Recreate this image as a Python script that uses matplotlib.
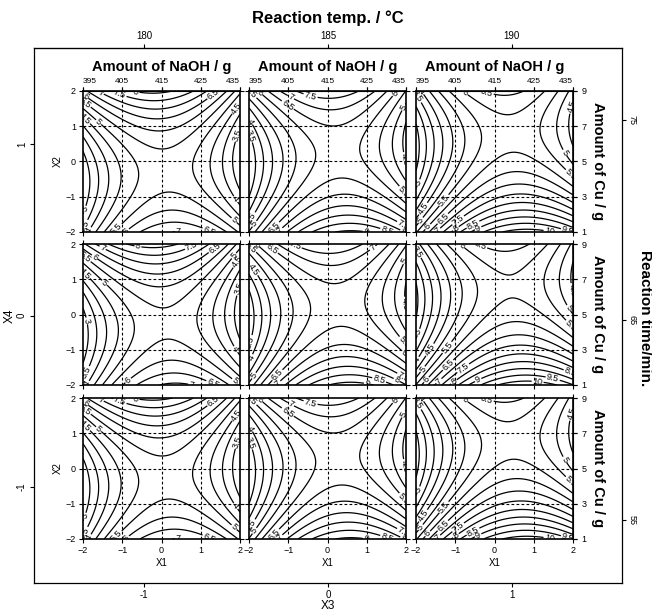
import numpy as np
import matplotlib
matplotlib.use('Agg')
import matplotlib.pyplot as plt

plt.rcParams['font.family'] = ['Liberation Sans', 'DejaVu Sans']

# ---- data: second-order response-surface model in coded factors X1..X4 ----
b0, b1, b2, b3 = 6.28, 0.36, -0.25, 0.351
b11, b22, b33, b44 = -0.60, 0.55, -0.505, -0.10
b12, b13, b23 = -0.18, 0.28, -0.55

x3_levels = [-1, 0, 1]          # columns (reaction temp.)
x4_levels = [1, 0, -1]          # rows (reaction time)
temp_labels = ['180', '185', '190']
time_values = [75, 65, 55]
x4_tick_labels = ['1', '0', '-1']
x3_tick_labels = ['-1', '0', '1']
x1_ticks = [-2, -1, 0, 1, 2]
naoh_labels = ['395', '405', '415', '425', '435']
x2_ticks = [-2, -1, 0, 1, 2]
cu_labels = ['1', '3', '5', '7', '9']
contour_levels = np.arange(1.0, 12.5, 0.5)
labelled_levels = np.arange(3.0, 10.5, 0.5)


def model(x1, x2, x3, x4):
    return (b0 + b1 * x1 + b2 * x2 + b3 * x3
            + b11 * x1 ** 2 + b22 * x2 ** 2 + b33 * x3 ** 2 + b44 * x4 ** 2
            + b12 * x1 * x2 + b13 * x1 * x3 + b23 * x2 * x3)


W, H = 652, 611
fig = plt.figure(figsize=(W / 100, H / 100), dpi=100)


def px(x0, y0, x1, y1):
    return [x0 / W, 1 - y1 / H, (x1 - x0) / W, (y1 - y0) / H]


# ---- outer frame axes ----
outer = fig.add_axes(px(34, 48, 622, 583))
outer.set_facecolor('none')
outer.set_xlim(-1.6, 1.6)
outer.set_ylim(-1.564, 1.564)
outer.set_xticks([-1, 0, 1])
outer.set_xticklabels(x3_tick_labels)
outer.set_yticks([1, 0, -1])
outer.set_yticklabels(x4_tick_labels, rotation=90, va='center')
outer.tick_params(direction='out', length=3, width=0.8, labelsize=7, pad=2)
outer.set_xlabel('X3', fontsize=8.5, labelpad=0)
outer.set_ylabel('X4', fontsize=8.5, labelpad=1)
for s in outer.spines.values():
    s.set_linewidth(0.9)

top_ax = outer.secondary_xaxis('top')
top_ax.set_xticks([-1, 0, 1])
top_ax.set_xticklabels(temp_labels)
top_ax.tick_params(direction='out', length=3, width=0.8, labelsize=7, pad=2)
top_ax.set_xlabel('Reaction temp. / °C', fontsize=12, fontweight='bold', labelpad=6)

right_ax = outer.twinx()
right_ax.set_facecolor('none')
right_ax.set_ylim(51.85, 78.6)
right_ax.set_yticks(time_values)
right_ax.set_yticklabels([str(v) for v in time_values], rotation=-90, va='center')
right_ax.tick_params(direction='out', length=3, width=0.8, labelsize=6.5, pad=1)
for s in right_ax.spines.values():
    s.set_visible(False)
fig.text(645 / W, 1 - 318 / H, 'Reaction time/min.', fontsize=11,
         fontweight='bold', rotation=-90, ha='center', va='center')

# ---- inner contour panels ----
col_x = [83, 249, 416]
row_y = [91, 244, 398]
pw, ph = 157, 141

g = np.linspace(-2, 2, 241)
X1, X2 = np.meshgrid(g, g)

for r in range(3):
    for c in range(3):
        ax = fig.add_axes(px(col_x[c], row_y[r], col_x[c] + pw, row_y[r] + ph))
        Z = model(X1, X2, x3_levels[c], x4_levels[r])
        cs = ax.contour(X1, X2, Z, levels=contour_levels, colors='black',
                        linewidths=0.9)
        ax.clabel(cs, levels=[lv for lv in cs.levels if lv in labelled_levels],
                  fmt='%g', fontsize=6.5, inline=True, inline_spacing=1)
        ax.set_xlim(-2, 2)
        ax.set_ylim(-2, 2)
        ax.set_xticks(x1_ticks)
        ax.set_yticks(x2_ticks)
        for v in [-1, 0, 1]:
            ax.axvline(v, color='black', lw=0.8, ls=(0, (2.5, 2)))
            ax.axhline(v, color='black', lw=0.8, ls=(0, (2.5, 2)))
        ax.tick_params(direction='out', length=3, width=0.8, labelsize=6.5,
                       pad=2, top=True, right=True,
                       labelbottom=(r == 2), labelleft=(c == 0))
        for s in ax.spines.values():
            s.set_linewidth(1.2)
        if r == 2:
            ax.set_xlabel('X1', fontsize=7, labelpad=2)
        if c == 0 and r != 1:
            ax.set_ylabel('X2', fontsize=7, labelpad=2)
        if r == 0:
            sx = ax.secondary_xaxis('top')
            sx.set_xticks(x1_ticks)
            sx.set_xticklabels(naoh_labels)
            sx.tick_params(direction='out', length=3, width=0.8, labelsize=6, pad=1)
            tl = sx.get_xticklabels()
            tl[0].set_ha('left')
            tl[-1].set_ha('right')
            sx.set_xlabel('Amount of NaOH / g', fontsize=10.5, fontweight='bold',
                          labelpad=5)
        if c == 2:
            sy = ax.secondary_yaxis('right')
            sy.set_yticks(x2_ticks)
            sy.set_yticklabels(cu_labels)
            sy.tick_params(direction='out', length=3, width=0.8, labelsize=6.5, pad=3)
            sy.set_ylabel('Amount of Cu / g', fontsize=10.5, fontweight='bold',
                          rotation=-90, va='bottom', labelpad=3)

fig.savefig('out.png', dpi=100)
